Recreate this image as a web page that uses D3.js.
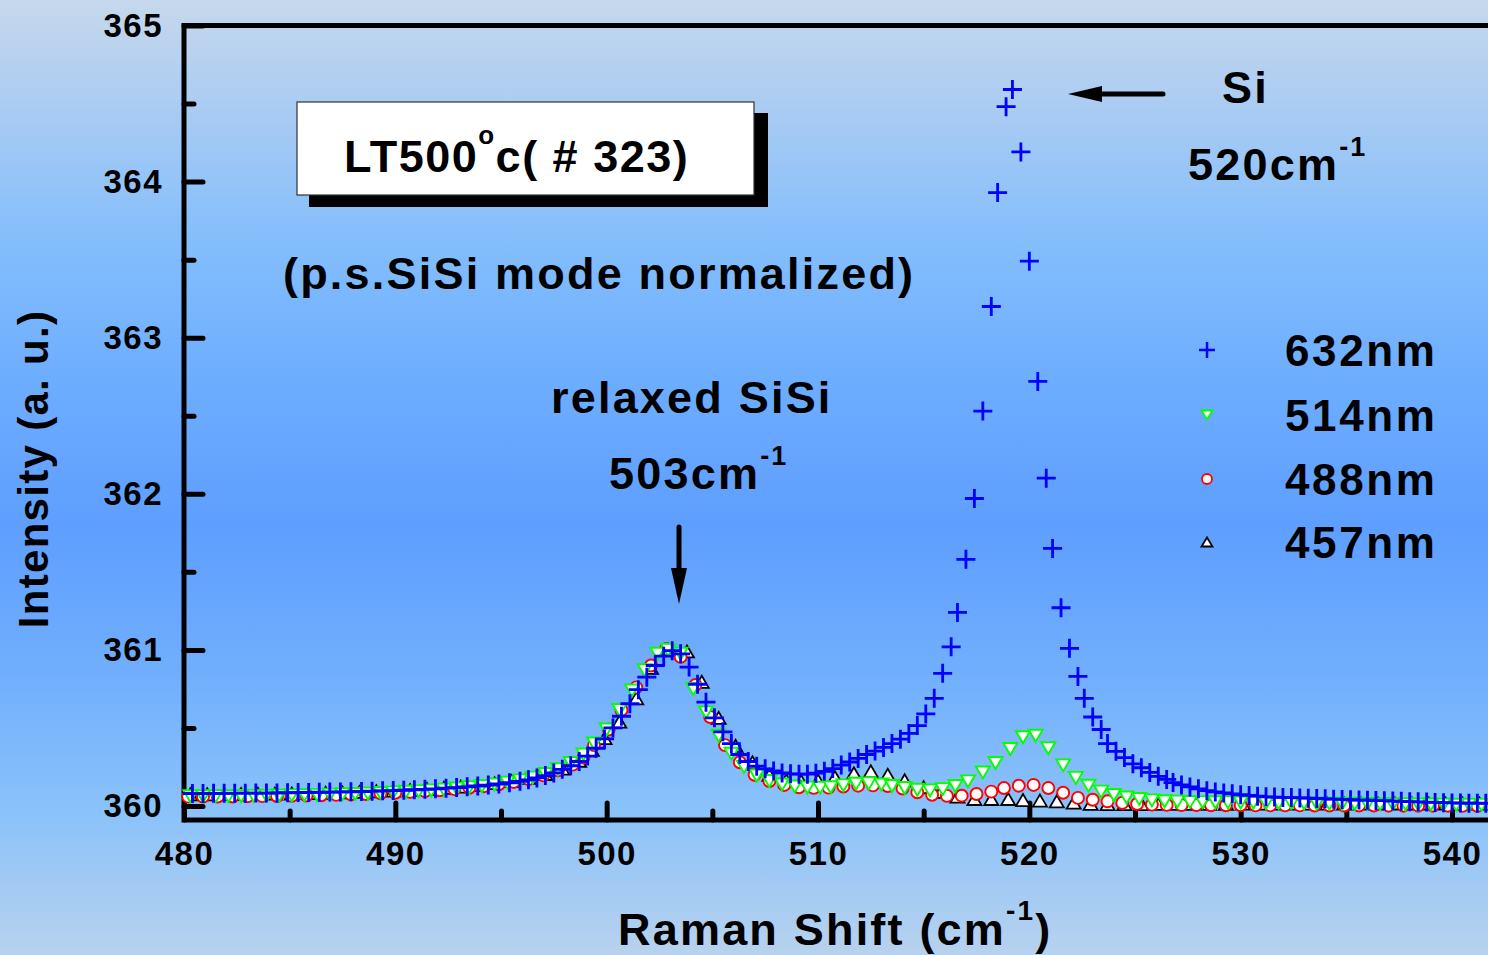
<!DOCTYPE html>
<html>
<head>
<meta charset="utf-8">
<title>Raman LT500 #323</title>
<script src="https://d3js.org/d3.v7.min.js"></script>
<style>
  html, body { margin: 0; padding: 0; overflow: hidden; }
  svg { display: block; }
  text { font-family: "Liberation Sans", Arial, sans-serif; font-weight: bold; fill: #000; }
</style>
</head>
<body>
<svg width="1488" height="955"></svg>
<script>
// ---- data (Raman shift cm^-1, intensity a.u.) ----
const s632 = [
  [480.4,360.080],[480.9,360.080],[481.4,360.081],[481.9,360.081],[482.4,360.082],[482.9,360.082],
  [483.4,360.083],[483.9,360.083],[484.4,360.084],[484.9,360.085],[485.4,360.086],[485.9,360.087],
  [486.4,360.088],[486.9,360.089],[487.4,360.090],[487.9,360.091],[488.4,360.093],[488.9,360.095],
  [489.4,360.097],[489.9,360.099],[490.4,360.101],[490.9,360.104],[491.4,360.107],[491.9,360.110],
  [492.4,360.114],[492.9,360.118],[493.4,360.123],[493.9,360.128],[494.4,360.134],[494.9,360.141],
  [495.4,360.149],[495.9,360.158],[496.3,360.168],[496.7,360.180],[497.1,360.195],[497.5,360.212],
  [497.9,360.235],[498.3,360.258],[498.7,360.285],[499.1,360.320],[499.5,360.370],[499.9,360.430],
  [500.3,360.500],[500.7,360.575],[501.1,360.655],[501.5,360.745],[501.9,360.825],[502.3,360.900],
  [502.7,360.960],[503.1,360.995],[503.5,360.975],[503.9,360.890],[504.3,360.780],[504.7,360.665],
  [505.1,360.565],[505.5,360.475],[505.9,360.400],[506.3,360.330],[506.7,360.285],[507.1,360.255],
  [507.5,360.238],[507.9,360.225],[508.3,360.212],[508.7,360.206],[509.1,360.204],[509.5,360.204],
  [509.9,360.210],[510.3,360.222],[510.7,360.240],[511.1,360.262],[511.5,360.282],[511.9,360.305],
  [512.3,360.330],[512.7,360.352],[513.1,360.375],[513.5,360.400],[513.9,360.428],[514.3,360.465],
  [514.7,360.515],[515.1,360.590],[515.5,360.690],[515.9,360.850],[516.3,361.020],[516.6,361.240],
  [517.0,361.580],[517.4,361.970],[517.8,362.530],[518.2,363.200],[518.5,363.930],[518.9,364.480],
  [519.2,364.590],[519.6,364.190],[520.0,363.490],[520.4,362.720],[520.8,362.100],[521.1,361.650],
  [521.5,361.270],[521.9,361.010],[522.3,360.830],[522.6,360.690],[523.0,360.570],[523.4,360.490],
  [523.7,360.400],[524.1,360.350],[524.5,360.310],[524.9,360.270],[525.3,360.245],[525.7,360.215],
  [526.1,360.190],[526.5,360.170],[526.8,360.150],[527.2,360.135],[527.6,360.122],[528.0,360.110],
  [528.4,360.098],[528.8,360.090],[529.2,360.084],[529.6,360.078],[530.0,360.072],[530.4,360.068],
  [530.8,360.063],[531.2,360.059],[531.6,360.057],[532.0,360.055],[532.4,360.054],[532.8,360.052],
  [533.2,360.050],[533.6,360.048],[534.0,360.046],[534.4,360.044],[534.8,360.042],[535.2,360.040],
  [535.6,360.038],[536.0,360.037],[536.4,360.035],[536.8,360.034],[537.2,360.032],[537.6,360.030],
  [538.0,360.028],[538.4,360.027],[538.8,360.025],[539.2,360.023],[539.6,360.021],[540.0,360.020],
  [540.4,360.019],[540.8,360.018],[541.2,360.018],[541.6,360.017]
];
const s514 = [
  [480.3,360.062],[480.9,360.062],[481.5,360.063],[482.1,360.063],[482.7,360.064],[483.3,360.065],
  [483.9,360.066],[484.5,360.067],[485.1,360.068],[485.7,360.069],[486.3,360.071],[486.9,360.073],
  [487.5,360.075],[488.1,360.077],[488.7,360.080],[489.3,360.083],[489.9,360.087],[490.5,360.091],
  [491.1,360.095],[491.7,360.100],[492.3,360.105],[492.9,360.112],[493.5,360.120],[494.1,360.128],
  [494.7,360.138],[495.3,360.150],[495.9,360.164],[496.5,360.182],[497.1,360.205],[497.7,360.235],
  [498.3,360.275],[498.9,360.330],[499.4,360.400],[500.0,360.490],[500.6,360.615],[501.2,360.740],
  [501.8,360.870],[502.4,360.975],[502.9,361.000],[503.5,360.975],[504.1,360.750],[504.7,360.600],
  [505.3,360.450],[505.9,360.335],[506.5,360.250],[507.1,360.195],[507.7,360.160],[508.3,360.138],
  [508.9,360.125],[509.5,360.118],[510.1,360.117],[510.6,360.120],[511.2,360.132],[511.8,360.143],
  [512.4,360.145],[513.0,360.138],[513.5,360.128],[514.1,360.115],[514.7,360.104],[515.3,360.100],
  [515.9,360.108],[516.5,360.128],[517.1,360.158],[517.8,360.215],[518.4,360.275],[519.1,360.365],
  [519.7,360.440],[520.3,360.450],[520.9,360.370],[521.6,360.260],[522.2,360.180],[522.8,360.130],
  [523.4,360.092],[524.0,360.070],[524.6,360.054],[525.2,360.045],[525.8,360.036],[526.4,360.030],
  [527.0,360.028],[527.6,360.026],[528.2,360.025],[528.8,360.024],[529.4,360.023],[530.0,360.022],
  [530.6,360.021],[531.2,360.020],[531.8,360.019],[532.4,360.018],[533.0,360.017],[533.6,360.016],
  [534.2,360.015],[534.8,360.014],[535.4,360.014],[536.0,360.013],[536.6,360.012],[537.2,360.012],
  [537.8,360.011],[538.4,360.010],[539.0,360.010],[539.6,360.009],[540.2,360.008],[540.8,360.008],
  [541.4,360.007]
];
const s488 = [
  [480.2,360.060],[480.9,360.060],[481.6,360.061],[482.3,360.061],[483.0,360.062],[483.7,360.063],
  [484.4,360.064],[485.1,360.065],[485.8,360.067],[486.5,360.069],[487.2,360.071],[487.9,360.074],
  [488.6,360.077],[489.3,360.081],[490.0,360.085],[490.7,360.090],[491.4,360.095],[492.1,360.101],
  [492.8,360.108],[493.5,360.117],[494.2,360.127],[494.9,360.139],[495.6,360.154],[496.3,360.172],
  [497.0,360.196],[497.7,360.228],[498.4,360.265],[498.9,360.310],[499.4,360.390],[500.1,360.490],
  [500.7,360.615],[501.4,360.760],[502.1,360.900],[502.8,361.005],[503.5,360.955],[504.2,360.775],
  [504.9,360.570],[505.6,360.390],[506.3,360.280],[507.0,360.200],[507.7,360.160],[508.4,360.135],
  [509.1,360.120],[509.8,360.116],[510.5,360.118],[511.2,360.125],[511.9,360.130],[512.6,360.132],
  [513.3,360.128],[514.0,360.112],[514.7,360.088],[515.4,360.072],[516.1,360.065],[516.8,360.066],
  [517.5,360.077],[518.2,360.092],[518.8,360.115],[519.5,360.130],[520.2,360.135],[520.9,360.115],
  [521.6,360.085],[522.3,360.052],[523.0,360.040],[523.7,360.030],[524.4,360.020],[525.1,360.013],
  [525.8,360.009],[526.5,360.007],[527.2,360.006],[527.9,360.006],[528.6,360.005],[529.3,360.005],
  [530.0,360.005],[530.7,360.004],[531.4,360.004],[532.1,360.004],[532.8,360.004],[533.5,360.003],
  [534.2,360.003],[534.9,360.003],[535.6,360.003],[536.3,360.003],[537.0,360.002],[537.7,360.002],
  [538.4,360.002],[539.1,360.002],[539.8,360.002],[540.5,360.001],[541.2,360.001]
];
const s457 = [
  [480.3,360.075],[481.1,360.075],[481.9,360.076],[482.7,360.077],[483.5,360.078],[484.3,360.079],
  [485.1,360.080],[485.9,360.082],[486.7,360.084],[487.5,360.087],[488.3,360.090],[489.1,360.094],
  [489.9,360.098],[490.7,360.103],[491.5,360.109],[492.3,360.116],[493.1,360.124],[493.9,360.134],
  [494.7,360.146],[495.5,360.160],[496.3,360.180],[497.1,360.205],[497.9,360.240],[498.7,360.290],
  [499.3,360.360],[499.9,360.435],[500.6,360.540],[501.4,360.690],[502.1,360.885],[502.9,361.000],
  [503.8,360.990],[504.5,360.795],[505.3,360.565],[506.1,360.385],[506.9,360.280],[507.7,360.200],
  [508.5,360.165],[509.2,360.160],[510.0,360.165],[510.8,360.185],[511.7,360.210],[512.5,360.222],
  [513.3,360.200],[514.1,360.165],[515.0,360.120],[515.8,360.090],[516.6,360.060],[517.4,360.045],
  [518.2,360.045],[519.0,360.045],[519.7,360.038],[520.5,360.035],[521.3,360.030],[522.1,360.022],
  [522.9,360.014],[523.7,360.012],[524.5,360.012],[525.3,360.012],[526.1,360.013],[526.9,360.013],
  [527.7,360.014],[528.5,360.014],[529.3,360.014],[530.1,360.015],[530.9,360.015],[531.7,360.015],
  [532.5,360.015],[533.3,360.015],[534.1,360.015],[534.9,360.016],[535.7,360.016],[536.5,360.016],
  [537.3,360.016],[538.1,360.016],[538.9,360.016],[539.7,360.016],[540.5,360.016],[541.3,360.016]
];

const xMajor = [480, 490, 500, 510, 520, 530, 540];
const xMinor = [485, 495, 505, 515, 525, 535];
const yMajor = [360, 361, 362, 363, 364, 365];
const yMinor = [360.5, 361.5, 362.5, 363.5, 364.5];
const legendLabels = ["632nm", "514nm", "488nm", "457nm"];

// ---- scales ----
const svg = d3.select("svg");
const W = 1488, H = 955;
const x = d3.scaleLinear().domain([480, 540]).range([184, 1452]);
const y = d3.scaleLinear().domain([360, 365]).range([806, 25.5]);
const axisY = 820;

// background gradient
const defs = svg.append("defs");
const grad = defs.append("linearGradient").attr("id", "bg")
  .attr("x1", 0).attr("y1", 0).attr("x2", 0).attr("y2", 1);
[[0, "#c6d8ec"], [0.12, "#a8cbf3"], [0.26, "#82bdfc"], [0.4, "#6dadff"],
 [0.55, "#5e9eff"], [0.7, "#70aefd"], [0.85, "#8ac2fa"], [1, "#b8d2ee"]]
  .forEach(s => grad.append("stop").attr("offset", s[0]).attr("stop-color", s[1]));
svg.append("rect").attr("width", W).attr("height", H).attr("fill", "url(#bg)");

// ---- axes ----
svg.append("g").attr("transform", `translate(0,${axisY})`)
  .call(d3.axisBottom(x).tickValues(xMajor).tickSize(-17).tickPadding(22).tickFormat(d3.format("d")));
svg.append("g").attr("transform", `translate(0,${axisY})`)
  .call(d3.axisBottom(x).tickValues(xMinor).tickSize(-9).tickFormat(""));
svg.append("g").attr("transform", `translate(184,0)`)
  .call(d3.axisLeft(y).tickValues(yMajor).tickSize(-19).tickPadding(21).tickFormat(d3.format("d")));
svg.append("g").attr("transform", `translate(184,0)`)
  .call(d3.axisLeft(y).tickValues(yMinor).tickSize(-10).tickFormat(""));

svg.selectAll(".domain").remove();
svg.selectAll(".tick line").attr("stroke", "#000").attr("stroke-width", 5).attr("stroke-linecap", "round");
svg.selectAll(".tick text").attr("font-size", 33).attr("letter-spacing", 1.5)
  .style("font-family", "'Liberation Sans', Arial, sans-serif").style("font-weight", "bold").attr("fill", "#000");

// frame (right edge falls outside the picture)
svg.append("path")
  .attr("d", `M${W + 20},25.5H184V${axisY}H${W + 20}`)
  .attr("fill", "none").attr("stroke", "#000").attr("stroke-width", 5);

// ---- markers ----
const plus = s => `M${-s},0H${s}M0,${-s}V${s}`;
const triDown = (w, h) => `M${-w / 2},${-h / 2}H${w / 2}L0,${h / 2}Z`;
const triUp = (w, h) => `M${-w / 2},${h / 2}H${w / 2}L0,${-h / 2}Z`;

const gPts = svg.append("g");

gPts.append("g").selectAll("path").data(s457).join("path")
  .attr("transform", d => `translate(${x(d[0])},${y(d[1])})`)
  .attr("d", triUp(14, 12)).attr("fill", "#fff").attr("stroke", "#000").attr("stroke-width", 1.8);

gPts.append("g").selectAll("circle").data(s488).join("circle")
  .attr("cx", d => x(d[0])).attr("cy", d => y(d[1])).attr("r", 6)
  .attr("fill", "#fff").attr("stroke", "#ff0000").attr("stroke-width", 1.9);

gPts.append("g").selectAll("path").data(s514).join("path")
  .attr("transform", d => `translate(${x(d[0])},${y(d[1])})`)
  .attr("d", triDown(14, 12)).attr("fill", "#fff").attr("stroke", "#00ff00").attr("stroke-width", 1.9);

gPts.append("g").selectAll("path").data(s632).join("path")
  .attr("transform", d => `translate(${x(d[0])},${y(d[1])})`)
  .attr("d", plus(9.5)).attr("fill", "none").attr("stroke", "#0000ff").attr("stroke-width", 2.8);

// ---- legend ----
const legY = [350, 415, 479, 542];
const lg = svg.append("g");
lg.append("path").attr("transform", `translate(1207,${legY[0]})`).attr("d", plus(8))
  .attr("fill", "none").attr("stroke", "#0000ff").attr("stroke-width", 2.5);
lg.append("path").attr("transform", `translate(1207,${legY[1]})`).attr("d", triDown(11, 9))
  .attr("fill", "#fff").attr("stroke", "#00ff00").attr("stroke-width", 1.8);
lg.append("circle").attr("cx", 1207).attr("cy", legY[2]).attr("r", 5)
  .attr("fill", "#fff").attr("stroke", "#ff0000").attr("stroke-width", 1.8);
lg.append("path").attr("transform", `translate(1207,${legY[3]})`).attr("d", triUp(11, 9))
  .attr("fill", "#fff").attr("stroke", "#000").attr("stroke-width", 1.8);
lg.selectAll("text").data(legendLabels).join("text")
  .attr("x", 1285).attr("y", (d, i) => legY[i] + 16)
  .attr("font-size", 44).attr("letter-spacing", 2.6).text(d => d);

// ---- annotations ----
function label(xp, yp, parts, size, ls) {
  const t = svg.append("text").attr("x", xp).attr("y", yp)
    .attr("font-size", size).attr("letter-spacing", ls);
  parts.forEach(p => {
    const ts = t.append("tspan").text(p.t);
    if (p.sup) ts.attr("font-size", p.sup).attr("dy", -p.up);
    if (p.down) ts.attr("dy", p.down);
  });
  return t;
}

// boxed title with shadow
svg.append("rect").attr("x", 309).attr("y", 113).attr("width", 459).attr("height", 94).attr("fill", "#000");
svg.append("rect").attr("x", 297).attr("y", 102).attr("width", 457).attr("height", 93)
  .attr("fill", "#fff").attr("stroke", "#333").attr("stroke-width", 1.2);
label(344, 172, [{t: "LT500"}, {t: "o", sup: 26, up: 28}, {t: "c( # 323)", down: 28}], 45, 1.5);

label(283, 289, [{t: "(p.s.SiSi mode normalized)"}], 45, 2.2);
label(551, 413, [{t: "relaxed SiSi"}], 45, 2.2);
label(609, 489, [{t: "503cm"}, {t: "-1", sup: 27, up: 24}], 45, 2.2);
label(1222, 103, [{t: "Si"}], 45, 2.2);
label(1188, 180, [{t: "520cm"}, {t: "-1", sup: 27, up: 24}], 45, 2.2);

// arrows
svg.append("line").attr("x1", 679).attr("y1", 527).attr("x2", 679).attr("y2", 572)
  .attr("stroke", "#000").attr("stroke-width", 5).attr("stroke-linecap", "round");
svg.append("path").attr("d", "M671,568L687,568L679,604Z").attr("fill", "#000");
svg.append("line").attr("x1", 1163).attr("y1", 94).attr("x2", 1098).attr("y2", 94)
  .attr("stroke", "#000").attr("stroke-width", 5).attr("stroke-linecap", "round");
svg.append("path").attr("d", "M1102,86L1102,102L1068,94Z").attr("fill", "#000");

// axis titles
label(618, 945, [{t: "Raman Shift (cm"}, {t: "-1", sup: 28, up: 25}, {t: ")", down: 25}], 45, 2.2);
svg.append("text").attr("transform", "translate(48,469) rotate(-90)")
  .attr("text-anchor", "middle").attr("font-size", 42).attr("letter-spacing", 1.3)
  .text("Intensity (a. u.)");
</script>
</body>
</html>
